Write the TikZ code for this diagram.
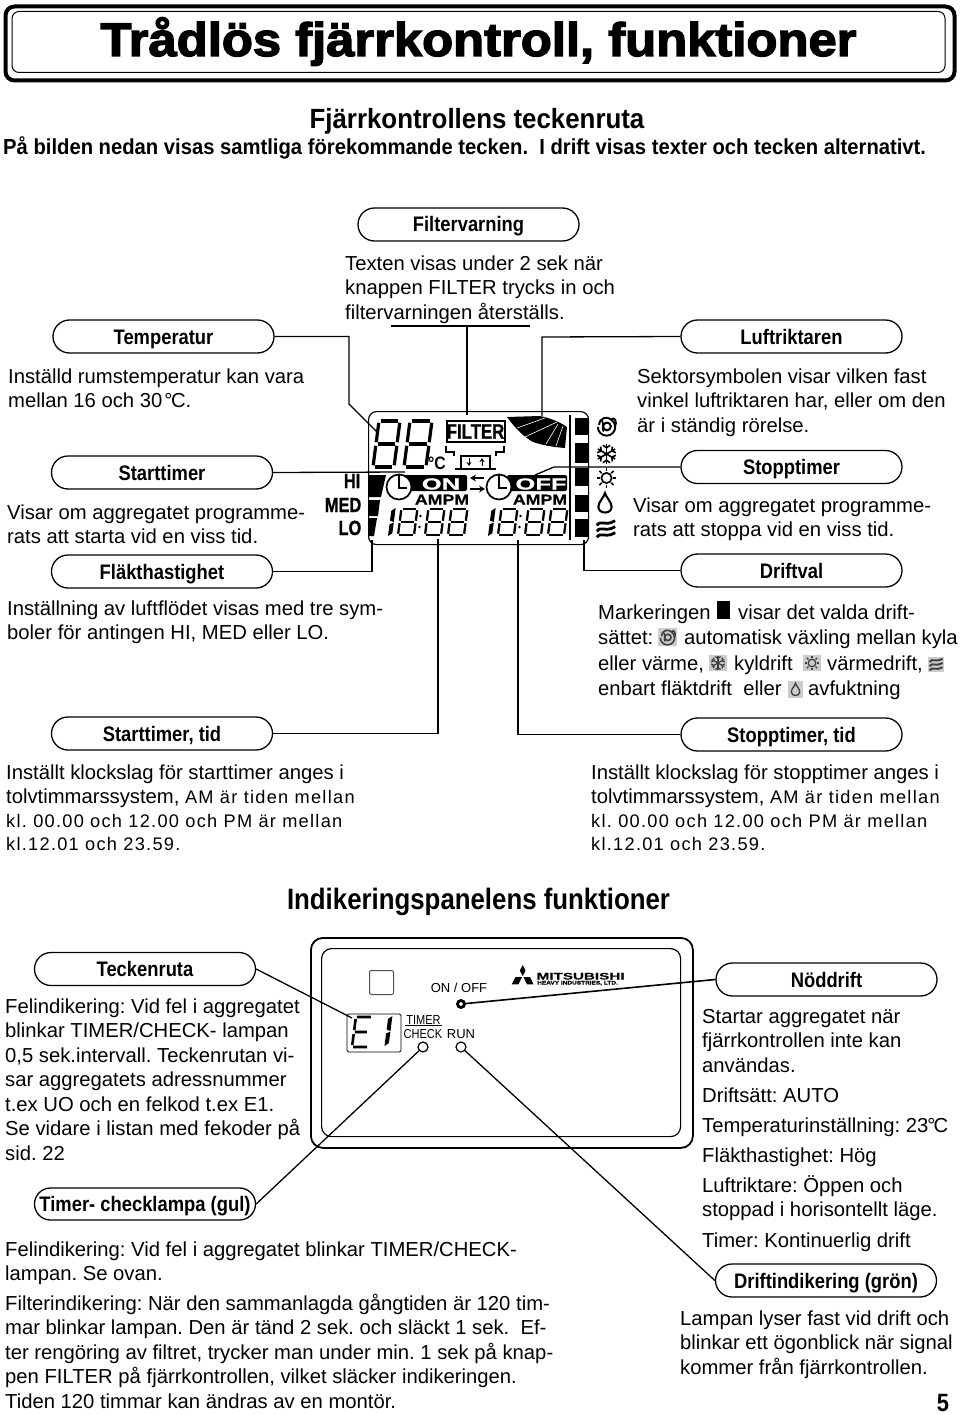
\documentclass[tikz,border=0pt]{standalone}
\usepackage{fontspec}
\usetikzlibrary{shapes.misc,arrows.meta}
\setmainfont{Liberation Sans}
\newfontfamily\lblfont[FakeStretch=0.875]{Liberation Sans Bold}
\newfontfamily\headfont[FakeStretch=0.93]{Liberation Sans Bold}
\newfontfamily\heavyfont[FakeStretch=0.8,FakeBold=1]{Liberation Sans Bold}
\newfontfamily\titlefont[FakeBold=3,FakeStretch=1.08]{Liberation Sans Bold}
\newfontfamily\widefont[FakeStretch=1.25,FakeBold=0.5]{Liberation Sans Bold}
\newfontfamily\xwidefont[FakeStretch=1.6,FakeBold=0.6]{Liberation Sans Bold}
\newfontfamily\condreg[FakeStretch=0.85]{Liberation Sans}
\frenchspacing
\newcommand\fs[1]{\fontsize{#1}{#1}\selectfont}
\newcommand\para[4]{\node[bodytxt,yshift=17pt] (#1) at (#2,#3) {\rule{0pt}{17pt}#4};}
\newcommand\frag[4]{\node[anchor=base west,inner sep=0,font=\fontsize{20.25}{24.5}\selectfont] (#1) at (#2,#3) {#4};}
\newcommand\spc[1]{{\fontsize{18.2}{24}\selectfont\addfontfeature{LetterSpace=7}#1}}
% seven-segment figures: #1 x, #2 bottom y, #3 w, #4 h, #5 lw
\newcommand\dEight[5]{\begin{scope}[shift={(#1,#2)},xslant=.13,line width=#5pt]
\pgfmathsetmacro\hh{#4/2}\pgfmathsetmacro\gg{#5*.55}
\draw (\gg,0)--({#3-\gg},0) (\gg,-#4)--({#3-\gg},-#4) (\gg,-\hh)--({#3-\gg},-\hh);
\draw (0,-\gg)--(0,{-\hh+\gg}) (0,{-\hh-\gg})--(0,{-#4+\gg}) (#3,-\gg)--(#3,{-\hh+\gg}) (#3,{-\hh-\gg})--(#3,{-#4+\gg});
\end{scope}}
\newcommand\dOne[4]{\begin{scope}[shift={(#1,#2)},xslant=.13]
\fill (0,0)--(#4,-#3*.1)--(#4,-#3*.48)--(0,-#3*.42)--cycle;
\fill (0,-#3*.55)--(#4,-#3*.5)--(#4,-#3)--(0,-#3*.9)--cycle;
\end{scope}}
% mode icons, drawn round the origin
\newcommand\icAuto[4][black]{\begin{scope}[shift={(#2,#3)},scale=#4,#1]
\draw[line width=#4*2.2pt] (0.5,0.5) circle (4.2);
\draw[line width=#4*2.1pt] (-9.5,1) arc (180:-60:9.5);
\draw[line width=#4*2.1pt] (-8,-1) .. controls (-8,-9) and (1,-11) .. (5,-7) .. controls (9,-11) and (12,-4) .. (9,1);
\draw[line width=#4*1.8pt] (-5,-6) .. controls (-2,-2) and (-6,3) .. (-3,6);
\end{scope}}
\newcommand\icSnow[4][black]{\begin{scope}[shift={(#2,#3)},scale=#4,#1,line width=#4*1.7pt]
\foreach \a in {0,60,120}{\draw (\a+30:10.5)--(\a+210:10.5);}
\foreach \a in {30,90,150,210,270,330}{\draw (\a:6.5)--(\a+22:10) (\a:6.5)--(\a-22:10);}
\end{scope}}
\newcommand\icSun[4][black]{\begin{scope}[shift={(#2,#3)},scale=#4,#1,line width=#4*1.8pt]
\draw (0,0) circle (5.4);
\foreach \a in {0,45,...,315}{\draw (\a:7.2)--(\a:10.5);}
\end{scope}}
\newcommand\icDrop[4][black]{\begin{scope}[shift={(#2,#3)},scale=#4,#1,line width=#4*2.2pt]
\draw (0,-10.5) .. controls (-1,-6) and (-7,-1) .. (-7,4) .. controls (-7,8) and (-3.5,10) .. (0,10) .. controls (3.5,10) and (7,8) .. (7,4) .. controls (7,-1) and (1,-6) .. (0,-10.5) -- cycle;
\end{scope}}
\newcommand\icFan[4][black]{\begin{scope}[shift={(#2,#3)},scale=#4,#1,line width=#4*3pt]
\foreach \d in {-6.5,0,6.5}{\draw (-10,\d+2.5) .. controls (-5,\d-4) and (-1,\d+4) .. (10,\d-2.5);}
\end{scope}}
\tikzset{
  x=1pt,y=-1pt,
  pill/.style={rounded rectangle,draw,line width=1.3pt,minimum width=221pt,minimum height=33pt,inner sep=0pt,text height=17pt,text depth=2pt,font=\lblfont\fs{21}},
  conn/.style={line width=1.3pt,line join=miter},
  bodytxt/.style={anchor=north west,inner sep=0,align=left,font=\fontsize{20.25}{24.5}\selectfont},
  lcdlbl/.style={inner sep=0,anchor=base},
  hicon/.style={fill=black!20,draw=none}
}
\begin{document}
\begin{tikzpicture}
\useasboundingbox (0,0) rectangle (960,1415);
% title
\node[draw,line width=4pt,rounded corners=9pt,minimum width=949pt,minimum height=74pt,inner sep=0,anchor=north west] (titleouter) at (3.5,4.5) {};
\node[draw,line width=1pt,rounded corners=7pt,minimum width=933pt,minimum height=61pt,inner sep=0,anchor=north west] (titleinner) at (11.5,11) {};
\node[inner sep=0,anchor=base,font=\titlefont\fs{47}] (title) at (478.5,56) {Trådlös fjärrkontroll, funktioner};
\node[inner sep=0,anchor=base,font=\headfont\fs{27.8}] (h1) at (477,129) {Fjärrkontrollens teckenruta};
\node[inner sep=0,anchor=base west,font=\headfont\fs{21.75}] (h2) at (3,155) {På bilden nedan visas samtliga förekommande tecken.\ \ I drift visas texter och tecken alternativt.};
% LCD
\node[draw,line width=1.2pt,rounded corners=8pt,minimum width=220pt,minimum height=133pt,inner sep=0,anchor=north west] (lcd) at (368,411) {};
\dEight{373}{467}{21}{46}{3.2}
\dEight{404}{467}{22}{46}{3.2}
\node[lcdlbl,font=\lblfont\fs{18}] (degc) at (437,469.5) {°C};
\node[draw,line width=2pt,minimum width=58pt,minimum height=21pt,inner sep=0,font=\heavyfont\fs{21}] (filterbox) at (475.5,431.5) {FILTER};
\draw[line width=1.4pt] (446,446)--(446,452)--(454,452)--(454,456) (496,456)--(496,452)--(504,452)--(504,446);
\draw[line width=1.2pt] (460,456)--(491,456) (461,456)--(461,468) (490,456)--(490,468);
\draw[line width=2.4pt] (455,469)--(496,469);
\draw[-{Stealth[length=4pt,width=5pt]},line width=1pt] (469,458)--(469,466);
\draw[-{Stealth[length=4pt,width=5pt]},line width=1pt] (482,466)--(482,458);
% sector
\fill (507,417)--(540,416) .. controls (550,418) and (560,422) .. (567,427) -- (565,448) .. controls (552,447) and (542,445) .. (533,442) .. controls (526,438) and (518,432) .. (507,417) -- cycle;
\draw[white,line width=.6pt] (517,428)--(545,418) (525,437)--(557,422) (546,444)--(558,424) (556,446)--(563,426);
% right column
\draw[line width=2pt] (570,415)--(570,540);
\foreach \a/\b in {418/435,443/463,468/486,495/512,519/537}{\fill (575,\a) rectangle (588,\b);}
\icAuto{606.5}{426}{.92}
\icSnow{606.5}{454}{.95}
\icSun{606.5}{478}{.95}
\icDrop{605}{503}{.95}
\icFan{606}{529}{.92}
% fan speed
\node[lcdlbl,anchor=base east,font=\heavyfont\fs{20.5}] (hi) at (360.5,488) {HI};
\node[lcdlbl,anchor=base east,font=\heavyfont\fs{20.5}] (med) at (361.5,512) {MED};
\node[lcdlbl,anchor=base east,font=\heavyfont\fs{20.5}] (lo) at (361.5,535) {LO};
\fill (368,475)--(386,475)--(381,497)--(368,497)--cycle;
\fill (368,500)--(380,500)--(378,516)--(368,516)--cycle;
\fill (368,518)--(377,518)--(374,536)--(368,536)--cycle;
% timers
\fill[rounded corners=2pt] (403,475) rectangle (467,491);
\fill[rounded corners=2pt] (507,475) rectangle (567,491);
\node[draw,fill=white,line width=1.7pt,circle,minimum size=25pt,inner sep=0] (clockA) at (399,487) {};
\node[draw,fill=white,line width=1.7pt,circle,minimum size=25pt,inner sep=0] (clockB) at (499,487) {};
\draw[line width=1.7pt] (399,474)--(399,488)--(407,488) (499,474)--(499,488)--(507,488);
\node[lcdlbl,text=white,font=\xwidefont\fs{16}] (on) at (441,489.5) {ON};
\node[lcdlbl,text=white,font=\xwidefont\fs{16}] (off) at (541,489.5) {OFF};
\node[lcdlbl,font=\widefont\fs{14.2}] (ampmA) at (442,504.5) {AMPM};
\node[lcdlbl,font=\widefont\fs{14.2}] (ampmB) at (540,504.5) {AMPM};
\draw[-{Stealth[length=6pt,width=7pt]},line width=2pt] (484,478)--(470,478);
\draw[-{Stealth[length=6pt,width=7pt]},line width=2pt] (470,489)--(485,489);
\dOne{388}{536}{28}{4}
\dEight{398}{535}{16}{26}{2.3}
\fill (420.5,516) circle (1.3) (419.5,527) circle (1.3);
\dEight{425}{535}{16}{26}{2.3}
\dEight{448}{535}{16}{26}{2.3}
\dOne{488}{536}{28}{4}
\dEight{498}{535}{16}{26}{2.3}
\fill (520.5,516) circle (1.3) (519.5,527) circle (1.3);
\dEight{525}{535}{16}{26}{2.3}
\dEight{548}{535}{16}{26}{2.3}
% pills top
\node[pill] (pfilter) at (468.5,224.5) {Filtervarning};
\node[pill] (ptemp) at (163.5,336.5) {Temperatur};
\node[pill] (pluft) at (791.5,336.5) {Luftriktaren};
\node[pill] (pstart) at (162,472.5) {Starttimer};
\node[pill] (pstop) at (791.5,467) {Stopptimer};
\node[pill] (pfan) at (162,571.5) {Fläkthastighet};
\node[pill] (pdrift) at (791.5,570.5) {Driftval};
\node[pill] (pstartt) at (162,733.5) {Starttimer, tid};
\node[pill] (pstopt) at (791.5,734.5) {Stopptimer, tid};
% connector ends
\coordinate (ctempa) at (349,404);
\coordinate (ctempb) at (377,432);
\coordinate (cfl) at (391,326);
\coordinate (cfr) at (530,326);
\coordinate (cfm) at (467,326);
\coordinate (cfd) at (467,415);
\coordinate (clufta) at (542,337);
\coordinate (cluftb) at (542,416);
\coordinate (cstart) at (405,472);
\coordinate (cstopa) at (554,467);
\coordinate (cstopb) at (535,475);
\coordinate (cfana) at (372,540);
\coordinate (cdra) at (584,540);
\coordinate (csta) at (438,539);
\coordinate (cstb) at (518,540);
\draw[conn] (ptemp.east) -| (ctempa) -- (ctempb);
\draw[conn] (cfl) -- (cfr) (cfm) -- (cfd);
\draw[conn] (pluft.west) -- (clufta) -- (cluftb);
\draw[conn] (pstart.east) -- (cstart);
\draw[conn] (pstop.west) -- (cstopa) -- (cstopb);
\draw[conn] (pfan.east) -| (cfana);
\draw[conn] (pdrift.west) -| (cdra);
\draw[conn] (pstartt.east) -| (csta);
\draw[conn] (pstopt.west) -| (cstb);
% texts top
\para{tfilter}{345}{270}{Texten visas under 2 sek när\\knappen FILTER trycks in och\\filtervarningen återställs.}
\para{ttemp}{8}{383}{Inställd rumstemperatur kan vara\\mellan 16 och 30\kern2pt°\kern-1.5pt C.}
\para{tluft}{637}{383}{Sektorsymbolen visar vilken fast\\vinkel luftriktaren har, eller om den\\är i ständig rörelse.}
\para{tstart}{7}{519}{Visar om aggregatet programme-\\rats att starta vid en viss tid.}
\para{tstop}{633}{512}{Visar om aggregatet programme-\\rats att stoppa vid en viss tid.}
\para{tfan}{7}{615}{Inställning av luftflödet visas med tre sym-\\boler för antingen HI, MED eller LO.}
% Driftval
\frag{d1a}{598}{619}{Markeringen}
\fill (717,601) rectangle (730,619);
\frag{d1b}{738}{619}{visar det valda drift-}
\frag{d2a}{598}{644}{sättet:}
\fill[hicon] (658,628) rectangle (677,646);
\icAuto[black!75]{667.5}{637}{.75}
\frag{d2b}{684}{644}{automatisk växling mellan kyla}
\frag{d3a}{598}{670}{eller värme,}
\fill[hicon] (709,655) rectangle (727,671);
\icSnow[black!75]{718}{663}{.7}
\frag{d3b}{734}{670}{kyldrift}
\fill[hicon] (803,655) rectangle (821,671);
\icSun[black!75]{812}{663}{.7}
\frag{d3c}{827}{670}{värmedrift,}
\fill[hicon] (928,657) rectangle (944,672);
\icFan[black!75]{936}{664.5}{.65}
\frag{d4a}{598}{695}{enbart fläktdrift\ \ eller}
\fill[hicon] (788,681) rectangle (803,698);
\icDrop[black!75]{795.5}{689.5}{.6}
\frag{d4b}{808}{695}{avfuktning}
% times
\para{tstartt}{6}{779}{Inställt klockslag för starttimer anges i\\tolvtimmarssystem, \spc{AM är tiden mellan}\\[-.5pt]\spc{kl. 00.00 och 12.00 och PM är mellan}\\[-1.5pt]\spc{kl.12.01 och 23.59.}}
\para{tstopt}{591}{779}{Inställt klockslag för stopptimer anges i\\tolvtimmarssystem, \spc{AM är tiden mellan}\\[-.5pt]\spc{kl. 00.00 och 12.00 och PM är mellan}\\[-1.5pt]\spc{kl.12.01 och 23.59.}}
\node[inner sep=0,anchor=base,font=\lblfont\fs{29.5}] (h3) at (478.5,909) {Indikeringspanelens funktioner};
% panel
\node[draw,line width=1.8pt,rounded corners=12pt,minimum width=382pt,minimum height=210pt,inner sep=0,anchor=north west] (pouter) at (310,937) {};
\node[draw,line width=1.2pt,rounded corners=10pt,minimum width=359pt,minimum height=188pt,inner sep=0,anchor=north west] (pinner) at (321,948) {};
\node[draw=black!70,line width=1pt,rounded corners=2pt,minimum size=24pt,inner sep=0,anchor=north west] (sq) at (369,970) {};
\node[draw,line width=.9pt,rounded corners=1.5pt,minimum width=54pt,minimum height=38pt,inner sep=0,anchor=north west] (ebox) at (346.5,1013.5) {};
\begin{scope}[shift={(352,1047)},xslant=.13,line width=2.6pt]
\draw (1,-30)--(15,-30) (1,-15)--(13,-15) (1,0)--(15,0) (0,-28)--(0,-17) (0,-13)--(0,-2);
\end{scope}
\dOne{384.5}{1046}{30}{4}
\node[inner sep=0,anchor=base,font=\fs{13}] (onoff) at (459,992.5) {ON / OFF};
\node[inner sep=0,anchor=base,font=\condreg\fs{13}] (ttimer) at (423.5,1024) {TIMER};
\draw[line width=.8pt] (405,1025.5)--(442,1025.5);
\node[inner sep=0,anchor=base,font=\condreg\fs{13}] (tcheck) at (423,1038.5) {CHECK};
\node[inner sep=0,anchor=base,font=\fs{13}] (trun) at (461,1038) {RUN};
\node[circle,draw,line width=2.8pt,minimum size=7pt,inner sep=0] (lon) at (461,1004) {};
\node[circle,draw,line width=1.2pt,minimum size=10pt,inner sep=0] (ltim) at (423,1047) {};
\node[circle,draw,line width=1.2pt,minimum size=10pt,inner sep=0] (lrun) at (461,1047) {};
\fill (522.7,965)--(525.6,970.5)--(522.7,976)--(519.8,970.5)--cycle;
\fill (522,977)--(518.5,984.3)--(511.7,984.3)--(515.5,977)--cycle;
\fill (523.4,977)--(527,984.3)--(533.5,984.3)--(530,977)--cycle;
\node[inner sep=0,anchor=base west,font=\xwidefont\fs{9.5}] (mits) at (536.5,979.5) {MITSUBISHI};
\node[inner sep=0,anchor=base west,font=\widefont\fs{5.2}] (hvy) at (537,984.5) {HEAVY INDUSTRIES, LTD.};
% pills lower
\node[pill] (ptecken) at (145,969) {Teckenruta};
\node[pill,minimum height=32pt] (ptimer) at (145,1204) {Timer- checklampa (gul)};
\node[pill] (pnod) at (826.5,979.5) {Nöddrift};
\node[pill] (pgron) at (826,1280.5) {Driftindikering (grön)};
\coordinate (ce) at (352,1018);
\draw[conn] (ptecken.east) -- (ce);
\draw[conn] (ptimer.east) -- (ltim);
\draw[conn,line width=1.6pt] (pnod.west) -- (lon);
\draw[conn] (pgron.west) -- (lrun);
% texts lower
\para{tteck}{5}{1013}{Felindikering: Vid fel i aggregatet\\blinkar TIMER/CHECK- lampan\\0,5 sek.intervall. Teckenrutan vi-\\sar aggregatets adressnummer\\t.ex UO och en felkod t.ex E1.\\Se vidare i listan med fekoder på\\sid. 22}
\para{ttim}{5}{1256}{Felindikering: Vid fel i aggregatet blinkar TIMER/CHECK-\\lampan. Se ovan.}
\para{tfilt}{5}{1310}{Filterindikering: När den sammanlagda gångtiden är 120 tim-\\mar blinkar lampan. Den är tänd 2 sek. och släckt 1 sek.\ \ Ef-\\ter rengöring av filtret, trycker man under min. 1 sek på knap-\\pen FILTER på fjärrkontrollen, vilket släcker indikeringen.\\Tiden 120 timmar kan ändras av en montör.}
\para{tn1}{702}{1023}{Startar aggregatet när\\fjärrkontrollen inte kan\\användas.}
\para{tn2}{702}{1102}{Driftsätt: AUTO}
\para{tn3}{702}{1132}{Temperaturinställning: 23\kern-1pt°\kern-2pt C}
\para{tn4}{702}{1162}{Fläkthastighet: Hög}
\para{tn5}{702}{1192}{Luftriktare: Öppen och\\stoppad i horisontellt läge.}
\para{tn6}{702}{1247}{Timer: Kontinuerlig drift}
\para{tgron}{680}{1325}{Lampan lyser fast vid drift och\\blinkar ett ögonblick när signal\\kommer från fjärrkontrollen.}
\node[inner sep=0,anchor=base,font=\lblfont\fs{25}] (pnum) at (943,1411.5) {5};
\end{tikzpicture}
\end{document}
